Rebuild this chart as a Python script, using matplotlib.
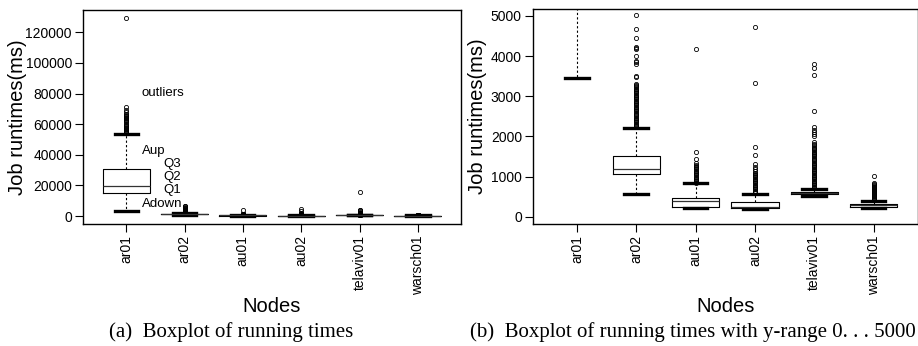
import matplotlib.pyplot as plt

nodes = ['ar01', 'ar02', 'au01', 'au02', 'telaviv01', 'warsch01']

# five-number summaries per node (ms): lower whisker, Q1, median, Q3, upper whisker
whisker_low = [3450, 570, 215, 195, 510, 225]
q1 = [15330, 1065, 235, 215, 555, 250]
median = [19500, 1190, 385, 240, 590, 285]
q3 = [30600, 1520, 475, 365, 620, 320]
whisker_high = [53500, 2200, 830, 575, 700, 395]

outliers_ar01 = [54200, 54800, 55400, 56000, 56700, 57300, 58100, 58900, 59600,
                 60400, 61200, 62100, 62900, 63400, 63900, 64500, 65200, 66000,
                 66900, 67800, 69000, 71000, 129600]
outliers_ar02 = [2230, 2260, 2290, 2320, 2350, 2380, 2410, 2440, 2470, 2500, 2530,
                 2560, 2590, 2620, 2650, 2680, 2710, 2740, 2770, 2800, 2830, 2860,
                 2890, 2920, 2950, 2980, 3010, 3040, 3070, 3100, 3130, 3160, 3190,
                 3220, 3250, 3280, 3300, 3470, 3500, 3800, 3840, 3880, 3990, 4170,
                 4200, 4220, 4440, 4670, 5030, 5400, 5800, 6300, 6800]
outliers_au01 = [850, 880, 910, 940, 970, 1000, 1030, 1060, 1090, 1120, 1150,
                 1180, 1210, 1240, 1270, 1300, 1340, 1440, 1620, 4170]
outliers_au02 = [590, 620, 650, 680, 710, 740, 770, 800, 830, 860, 890, 920, 950,
                 980, 1010, 1040, 1070, 1100, 1150, 1200, 1250, 1320, 1540, 1740,
                 3340, 4730]
outliers_telaviv01 = [720, 750, 780, 810, 840, 870, 900, 930, 960, 990, 1020, 1050,
                      1080, 1110, 1140, 1170, 1200, 1230, 1260, 1290, 1320, 1350,
                      1380, 1410, 1440, 1470, 1500, 1530, 1560, 1590, 1620, 1650,
                      1680, 1710, 1740, 1780, 1820, 1850, 2000, 2050, 2100, 2170,
                      2230, 2640, 3530, 3700, 3790, 15800]
outliers_warsch01 = [405, 430, 455, 480, 505, 530, 555, 580, 605, 630, 655, 680,
                     705, 730, 760, 790, 820, 850, 1015]
outliers = [outliers_ar01, outliers_ar02, outliers_au01, outliers_au02,
            outliers_telaviv01, outliers_warsch01]

# labels explaining the parts of the first box
box_notes = ['outliers', 'Aup', 'Q3', 'Q2', 'Q1', 'Adown']
note_x = [1.27, 1.27, 1.63, 1.63, 1.63, 1.27]
note_y = [80700, 42500, 33700, 25300, 17300, 7900]

plt.rcParams['font.family'] = ['Liberation Sans', 'DejaVu Sans']

stats = []
for i, name in enumerate(nodes):
    stats.append({'label': name, 'whislo': whisker_low[i], 'q1': q1[i],
                  'med': median[i], 'q3': q3[i], 'whishi': whisker_high[i],
                  'fliers': outliers[i]})

fig = plt.figure(figsize=(9.18, 3.46), dpi=100)
ax1 = fig.add_axes([83 / 918, 122 / 346, 378 / 918, 214 / 346])
ax2 = fig.add_axes([533 / 918, 122 / 346, 384.5 / 918, 215 / 346])


def draw_boxes(ax):
    ax.bxp(stats, positions=range(1, len(nodes) + 1), widths=0.8, capwidths=0.4,
           boxprops=dict(color='black', lw=0.8),
           medianprops=dict(color='#333333', lw=0.9),
           whiskerprops=dict(color='black', lw=0.8, ls=(0, (2, 2))),
           capprops=dict(color='black', lw=2.4),
           flierprops=dict(marker='o', ms=3, mfc='none', mec='black', mew=0.6))
    ax.set_xlim(0.26, 6.74)
    ax.set_xticks(range(1, len(nodes) + 1))
    ax.set_xticklabels(nodes, rotation=90)
    ax.tick_params(axis='both', direction='out', length=6, width=0.8, pad=2,
                   labelsize=10)
    for sp in ax.spines.values():
        sp.set_linewidth(1.0)
    ax.set_ylabel('Job runtimes(ms)', fontsize=14.5)
    ax.set_xlabel('Nodes', fontsize=14.5)


draw_boxes(ax1)
ax1.set_ylim(-5180, 134600)
ax1.set_yticks([0, 20000, 40000, 60000, 80000, 100000, 120000])
ax1.yaxis.set_label_coords(-0.148, 0.5)
ax1.xaxis.set_label_coords(0.5, -0.34)
for txt, x, y in zip(box_notes, note_x, note_y):
    ax1.text(x, y, txt, fontsize=9.5, ha='left', va='center')

draw_boxes(ax2)
ax2.set_ylim(-180, 5170)
ax2.set_yticks([0, 1000, 2000, 3000, 4000, 5000])
ax2.yaxis.set_label_coords(-0.12, 0.5)
ax2.xaxis.set_label_coords(0.5, -0.34)

fig.text(231 / 918, 1 - 332 / 346, '(a)  Boxplot of running times',
         family=['Liberation Serif', 'DejaVu Serif'], fontsize=15,
         ha='center', va='center')
fig.text(693 / 918, 1 - 332 / 346, '(b)  Boxplot of running times with y-range 0. . . 5000',
         family=['Liberation Serif', 'DejaVu Serif'], fontsize=15,
         ha='center', va='center')

fig.savefig('out.png', dpi=100)
